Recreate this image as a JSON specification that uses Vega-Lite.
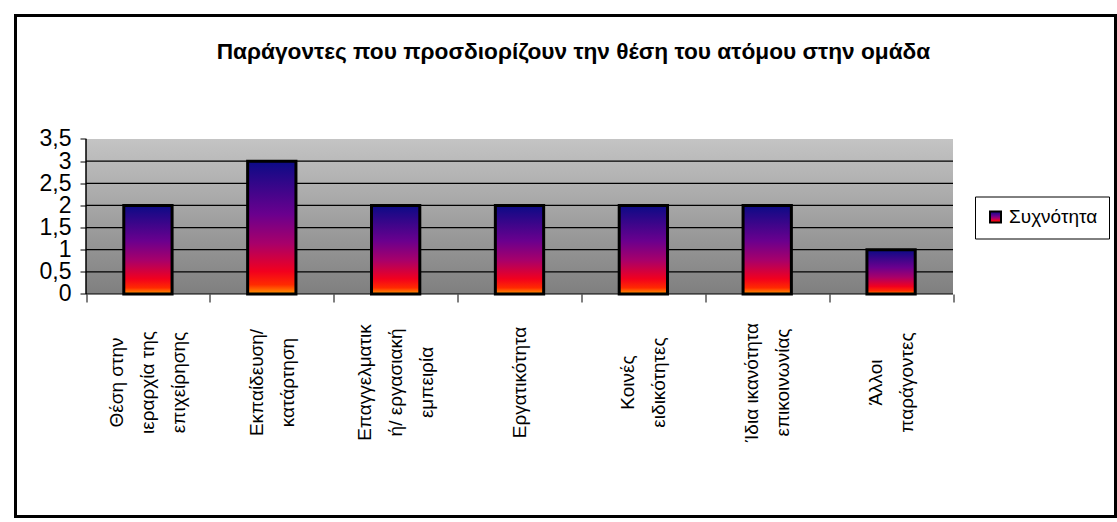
{
  "$schema": "https://vega.github.io/schema/vega-lite/v6.json",
  "width": 1100,
  "height": 501,
  "autosize": "none",
  "padding": {"left": 15.5, "top": 15.5, "right": 1.5, "bottom": 5.5},
  "background": "#ffffff",
  "view": {"stroke": "#000000", "strokeWidth": 3, "fill": "#ffffff"},
  "title": {
    "text": "Παράγοντες που προσδιορίζουν την θέση του ατόμου στην ομάδα",
    "font": "Liberation Sans, Arial, sans-serif",
    "fontSize": 22.7,
    "fontWeight": "bold",
    "color": "#000000",
    "anchor": "middle",
    "offset": -48,
    "dx": 8
  },
  "data": {
    "values": [
      {"factor": "Θέση στην\nιεραρχία της\nεπιχείρησης", "freq": 2},
      {"factor": "Εκπαίδευση/\nκατάρτηση", "freq": 3},
      {"factor": "Επαγγελματικ\nή/ εργασιακή\nεμπειρία", "freq": 2},
      {"factor": "Εργατικότητα", "freq": 2},
      {"factor": "Κοινές\nειδικότητες", "freq": 2},
      {"factor": "Ίδια ικανότητα\nεπικοινωνίας", "freq": 2},
      {"factor": "Άλλοι\nπαράγοντες", "freq": 1}
    ]
  },
  "layer": [
    {
      "data": {"values": [{}]},
      "mark": {
        "type": "rect",
        "fill": {
          "gradient": "linear", "x1": 0, "y1": 0, "x2": 0, "y2": 1,
          "stops": [
            {"offset": 0, "color": "#c4c4c4"},
            {"offset": 1, "color": "#7f7f7f"}
          ]
        }
      },
      "encoding": {
        "x": {
          "datum": "Θέση στην\nιεραρχία της\nεπιχείρησης", "type": "nominal", "bandPosition": 0,
          "scale": {
            "type": "band",
            "domain": ["Θέση στην\nιεραρχία της\nεπιχείρησης", "Εκπαίδευση/\nκατάρτηση", "Επαγγελματικ\nή/ εργασιακή\nεμπειρία", "Εργατικότητα", "Κοινές\nειδικότητες", "Ίδια ικανότητα\nεπικοινωνίας", "Άλλοι\nπαράγοντες"],
            "paddingInner": 0, "paddingOuter": 0.9406, "align": 0.3026
          }
        },
        "x2": {"datum": "Άλλοι\nπαράγοντες", "bandPosition": 1},
        "y": {
          "datum": 3.5, "type": "quantitative",
          "scale": {"domain": [-5.0242, 6.2887], "nice": false, "zero": false}
        },
        "y2": {"datum": 0}
      }
    },
    {
      "data": {"values": [{"v": 0}, {"v": 0.5}, {"v": 1}, {"v": 1.5}, {"v": 2}, {"v": 2.5}, {"v": 3}]},
      "mark": {"type": "rule", "color": "#000000", "strokeWidth": 1.2},
      "encoding": {
        "x": {
          "datum": "Θέση στην\nιεραρχία της\nεπιχείρησης", "type": "nominal", "bandPosition": 0,
          "scale": {
            "type": "band",
            "domain": ["Θέση στην\nιεραρχία της\nεπιχείρησης", "Εκπαίδευση/\nκατάρτηση", "Επαγγελματικ\nή/ εργασιακή\nεμπειρία", "Εργατικότητα", "Κοινές\nειδικότητες", "Ίδια ικανότητα\nεπικοινωνίας", "Άλλοι\nπαράγοντες"],
            "paddingInner": 0, "paddingOuter": 0.9406, "align": 0.3026
          }
        },
        "x2": {"datum": "Άλλοι\nπαράγοντες", "bandPosition": 1},
        "y": {
          "field": "v", "type": "quantitative",
          "scale": {"domain": [-5.0242, 6.2887], "nice": false, "zero": false}
        }
      }
    },
    {
      "mark": {
        "type": "bar",
        "width": {"band": 0.39},
        "strokeWidth": 3,
        "strokeJoin": "miter",
        "fill": {
          "gradient": "linear", "x1": 0, "y1": 0, "x2": 0, "y2": 1,
          "stops": [
            {"offset": 0, "color": "#0b0b86"},
            {"offset": 0.4, "color": "#6a008e"},
            {"offset": 0.62, "color": "#a8006a"},
            {"offset": 0.83, "color": "#f2001e"},
            {"offset": 0.93, "color": "#ff2a00"},
            {"offset": 1, "color": "#ff9a00"}
          ]
        }
      },
      "encoding": {
        "x": {
          "field": "factor", "type": "nominal",
          "scale": {
            "type": "band",
            "domain": ["Θέση στην\nιεραρχία της\nεπιχείρησης", "Εκπαίδευση/\nκατάρτηση", "Επαγγελματικ\nή/ εργασιακή\nεμπειρία", "Εργατικότητα", "Κοινές\nειδικότητες", "Ίδια ικανότητα\nεπικοινωνίας", "Άλλοι\nπαράγοντες"],
            "paddingInner": 0, "paddingOuter": 0.9406, "align": 0.3026
          },
          "axis": {
            "orient": "bottom",
            "offset": -222.5,
            "domain": false,
            "grid": false,
            "tickBand": "extent",
            "tickSize": 8,
            "tickColor": "#000000",
            "tickWidth": 1,
            "labelAngle": -90,
            "labelAlign": "center",
            "labelBaseline": "middle",
            "labelPadding": 80,
            "labelOffset": {
              "condition": [
                {"test": "length(split(datum.label, '\\n')) == 3", "value": -31},
                {"test": "length(split(datum.label, '\\n')) == 2", "value": -15.5}
              ],
              "value": 0
            },
            "labelFont": "Liberation Sans, Arial, sans-serif",
            "labelFontSize": 19,
            "labelColor": "#000000",
            "labelLineHeight": 31,
            "labelExpr": "split(datum.label, '\\n')",
            "labelOverlap": false,
            "labelLimit": 400,
            "title": null,
            "zindex": 1
          }
        },
        "y": {
          "field": "freq", "type": "quantitative",
          "scale": {"domain": [-5.0242, 6.2887], "nice": false, "zero": false},
          "axis": {
            "orient": "left",
            "offset": -70.5,
            "values": [0, 0.5, 1, 1.5, 2, 2.5, 3, 3.5],
            "domain": false,
            "grid": false,
            "tickSize": 6,
            "tickColor": "#000000",
            "tickWidth": 1,
            "labelFont": "Liberation Sans, Arial, sans-serif",
            "labelFontSize": 23,
            "labelColor": "#000000",
            "labelPadding": 9,
            "labelExpr": "replace(format(datum.value, '~g'), '.', ',')",
            "labelOverlap": false,
            "labelFlush": false,
            "title": null,
            "zindex": 1
          }
        },
        "y2": {"datum": 0},
        "stroke": {
          "datum": "Συχνότητα", "type": "nominal",
          "scale": {"range": ["#000000"]},
          "legend": {
            "title": null,
            "orient": "none",
            "legendX": 959.5,
            "legendY": 181,
            "symbolType": "square",
            "symbolSize": 121,
            "symbolStrokeWidth": 2,
            "symbolStrokeColor": "#000000",
            "labelFont": "Liberation Sans, Arial, sans-serif",
            "labelFontSize": 19,
            "labelColor": "#000000",
            "labelOffset": 4,
            "padding": 11,
            "strokeColor": "#000000",
            "fillColor": "#ffffff",
            "encode": {
              "symbols": {
                "update": {
                  "fill": {
                    "value": {
                      "gradient": "linear", "x1": 0, "y1": 0, "x2": 0, "y2": 1,
                      "stops": [
                        {"offset": 0, "color": "#0b0b86"},
                        {"offset": 0.45, "color": "#7a008a"},
                        {"offset": 0.8, "color": "#f2001e"},
                        {"offset": 1, "color": "#ff9a00"}
                      ]
                    }
                  },
                  "opacity": {"value": 1}
                }
              }
            }
          }
        }
      }
    },
    {
      "data": {"values": [{}]},
      "mark": {"type": "rule", "color": "#000000", "strokeWidth": 1.5},
      "encoding": {
        "x": {
          "datum": "Θέση στην\nιεραρχία της\nεπιχείρησης", "type": "nominal", "bandPosition": 0,
          "scale": {
            "type": "band",
            "domain": ["Θέση στην\nιεραρχία της\nεπιχείρησης", "Εκπαίδευση/\nκατάρτηση", "Επαγγελματικ\nή/ εργασιακή\nεμπειρία", "Εργατικότητα", "Κοινές\nειδικότητες", "Ίδια ικανότητα\nεπικοινωνίας", "Άλλοι\nπαράγοντες"],
            "paddingInner": 0, "paddingOuter": 0.9406, "align": 0.3026
          }
        },
        "y": {
          "datum": 0, "type": "quantitative",
          "scale": {"domain": [-5.0242, 6.2887], "nice": false, "zero": false}
        },
        "y2": {"datum": 3.5}
      }
    }
  ]
}
